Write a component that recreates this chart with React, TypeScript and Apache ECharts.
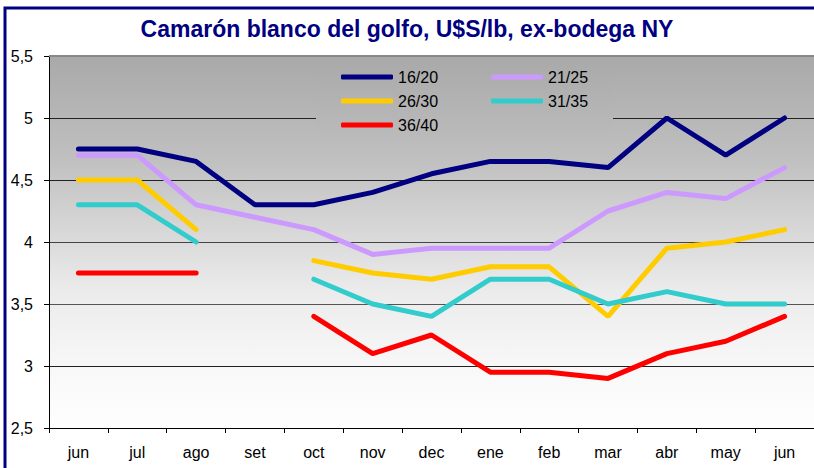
import React, { useEffect, useRef } from "react";
import * as echarts from "echarts";

const categories = ["jun", "jul", "ago", "set", "oct", "nov", "dec", "ene", "feb", "mar", "abr", "may", "jun"];
const seriesNames = ["16/20", "21/25", "26/30", "31/35", "36/40"];
const s1620 = [4.75, 4.75, 4.65, 4.3, 4.3, 4.4, 4.55, 4.65, 4.65, 4.6, 5.0, 4.7, 5.0];
const s2125 = [4.7, 4.7, 4.3, 4.2, 4.1, 3.9, 3.95, 3.95, 3.95, 4.25, 4.4, 4.35, 4.6];
const s2630 = [4.5, 4.5, 4.1, null, 3.85, 3.75, 3.7, 3.8, 3.8, 3.4, 3.95, 4.0, 4.1];
const s3135 = [4.3, 4.3, 4.0, null, 3.7, 3.5, 3.4, 3.7, 3.7, 3.5, 3.6, 3.5, 3.5];
const s3640 = [3.75, 3.75, 3.75, null, 3.4, 3.1, 3.25, 2.95, 2.95, 2.9, 3.1, 3.2, 3.4];
const seriesValues = [s1620, s2125, s2630, s3135, s3640];
const seriesColors = ["#000080", "#CC99FF", "#FFCC00", "#33CCCC", "#FF0000"];
const yMin = 2.5;
const yMax = 5.5;
const yStep = 0.5;
const titleText = "Camarón blanco del golfo, U$S/lb, ex-bodega NY";

const FONT = "'Liberation Sans', Arial, sans-serif";

export default function App() {
  const ref = useRef<HTMLDivElement>(null);
  useEffect(() => {
    document.body.style.margin = "0";
    if (!ref.current) return;
    const chart = echarts.init(ref.current, undefined, { renderer: "svg" });
    const plotGradient = new echarts.graphic.LinearGradient(0, 0, 0, 1, [
      { offset: 0, color: "#a9a9a9" },
      { offset: 0.28, color: "#c0c0c0" },
      { offset: 0.63, color: "#ebebeb" },
      { offset: 0.84, color: "#f8f8f8" },
      { offset: 1, color: "#fefefe" },
    ]);
    const legendGradient = new echarts.graphic.LinearGradient(0, 0, 0, 1, [
      { offset: 0, color: "#aaaaaa" },
      { offset: 1, color: "#bbbbbb" },
    ]);
    const series: any[] = seriesNames.map((name, i) => ({
      name,
      type: "line",
      data: seriesValues[i],
      symbol: "none",
      connectNulls: false,
      lineStyle: { width: 5, color: seriesColors[i], cap: "round" },
      itemStyle: { color: seriesColors[i] },
      z: 3,
    }));
    series[0].markLine = {
      silent: true,
      symbol: "none",
      label: { show: false },
      lineStyle: { color: "#888888", width: 2, type: "solid" },
      data: [{ yAxis: yMax }],
      z: 2,
    };
    chart.setOption({
      animation: false,
      backgroundColor: "#ffffff",
      title: {
        text: titleText,
        left: "center",
        top: 12,
        textStyle: { fontFamily: FONT, fontSize: 23, fontWeight: "bold", color: "#000080" },
      },
      grid: {
        left: 49,
        top: 56,
        bottom: 40,
        right: -14,
        show: true,
        backgroundColor: plotGradient,
        borderWidth: 0,
      },
      legend: {
        data: seriesNames,
        left: 341,
        top: 65,
        width: 310,
        padding: 0,
        itemGap: 0,
        itemWidth: 52,
        itemHeight: 5,
        icon: "roundRect",
        textStyle: { fontFamily: FONT, fontSize: 16, color: "#000", width: 93, lineHeight: 24 },
      },
      graphic: [
        {
          type: "rect",
          z: 1,
          silent: true,
          shape: { x: 316, y: 62, width: 297, height: 78 },
          style: { fill: legendGradient },
        },
        {
          type: "rect",
          z: 10,
          silent: true,
          shape: { x: 5, y: 8, width: 900, height: 600 },
          style: { fill: "none", stroke: "#000080", lineWidth: 3 },
        },
      ],
      xAxis: {
        type: "category",
        data: categories,
        boundaryGap: true,
        axisLine: { show: true, lineStyle: { color: "#000", width: 1 } },
        axisTick: { show: true, length: 5, lineStyle: { color: "#000" } },
        axisLabel: { fontFamily: FONT, fontSize: 16, color: "#000", margin: 16 },
        splitLine: { show: false },
      },
      yAxis: {
        type: "value",
        min: yMin,
        max: yMax,
        interval: yStep,
        axisLine: { show: true, lineStyle: { color: "#000", width: 1 } },
        axisTick: { show: true, length: 5, lineStyle: { color: "#000" } },
        axisLabel: {
          fontFamily: FONT,
          fontSize: 16,
          color: "#000",
          margin: 16,
          formatter: (v: number) => String(v).replace(".", ","),
        },
        splitLine: {
          show: true,
          lineStyle: { color: ["#000", "#222", "#555", "#444", "#222", "#222", "#888"], width: 1 },
        },
      },
      series,
    });
    return () => chart.dispose();
  }, []);
  return <div ref={ref} style={{ width: 814, height: 468 }} />;
}
